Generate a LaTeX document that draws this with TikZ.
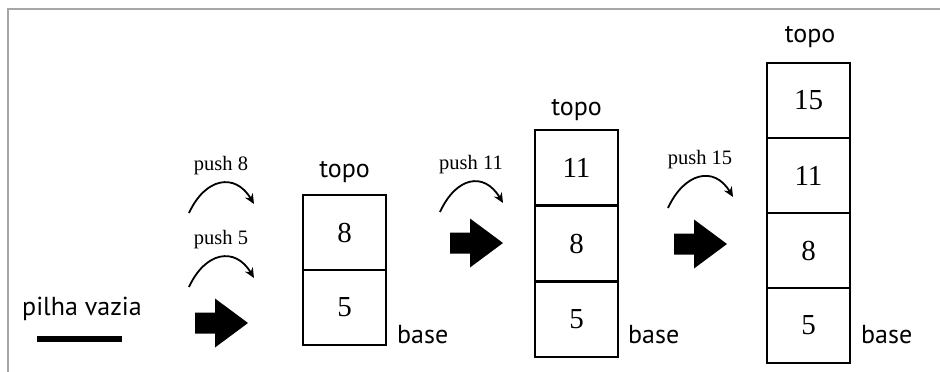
\documentclass[tikz,border=0pt]{standalone}
\usepackage{fontspec}
\setmainfont{Liberation Serif}
\newfontfamily\labelfont{PT Sans}
\usetikzlibrary{arrows.meta,positioning}
\begin{document}
\begin{tikzpicture}[x=1pt,y=-1pt,
 cell/.style={draw,line width=2.8pt,minimum width=83pt,minimum height=75pt,inner sep=0pt,outer sep=0pt,font=\fontsize{29}{32}\selectfont},
 lbl/.style={font=\labelfont\fontsize{26}{30}\selectfont,inner sep=0pt},
 pushlbl/.style={font=\fontsize{20.5}{24}\selectfont,inner sep=0pt},
 curved/.style={line width=1.8pt,-{Stealth[length=10pt,width=9pt]}},
 blockarrow/.pic={\fill (0,-10.5) -- (20,-10.5) -- (20,-24.5) -- (53,0) -- (20,24.5) -- (20,10.5) -- (0,10.5) -- cycle;}
]
\useasboundingbox (0,0) rectangle (940,372);
\fill[white] (0,0) rectangle (940,372);
\draw[gray!70,line width=1.5pt] (8,372) -- (8,9) -- (940,9);

% empty stack
\node[lbl,anchor=base] (empty) at (82,315) {pilha vazia};
\draw[line width=6pt] (37,339) -- (122,339);

% curved push arrows
\coordinate (p8s) at (189,213); \coordinate (p8e) at (254,204);
\coordinate (p5s) at (189,287); \coordinate (p5e) at (254,278);
\coordinate (p11s) at (440,212); \coordinate (p11e) at (503,203);
\coordinate (p15s) at (668,208); \coordinate (p15e) at (733,197);
\draw[curved] (p8s) .. controls +(16,-35) and +(-19,-32) .. (p8e);
\draw[curved] (p5s) .. controls +(16,-35) and +(-19,-32) .. (p5e);
\draw[curved] (p11s) .. controls +(16,-35) and +(-19,-32) .. (p11e);
\draw[curved] (p15s) .. controls +(16,-35) and +(-19,-32) .. (p15e);
\node[pushlbl] (l8) at (221,166) {push 8};
\node[pushlbl] (l5) at (221,240) {push 5};
\node[pushlbl] (l11) at (471,165) {push 11};
\node[pushlbl] (l15) at (700,160) {push 15};

% block arrows
\pic at (195,323) {blockarrow};
\pic at (450,243) {blockarrow};
\pic at (674,244) {blockarrow};

% stack 1
\node[cell] (a1) at (344.5,232.5) {8};
\node[cell] (a2) at (344.5,307.5) {5};
\node[lbl,anchor=base] (ta) at (344.5,177) {topo};
\node[lbl,anchor=base west] (ba) at (397,343) {base};

% stack 2
\node[cell,minimum height=75.7pt] (b1) at (576.5,167.8) {11};
\node[cell,minimum height=75.7pt] (b2) at (576.5,243.5) {8};
\node[cell,minimum height=75.7pt] (b3) at (576.5,319.2) {5};
\node[lbl,anchor=base] (tb) at (576.5,115) {topo};
\node[lbl,anchor=base west] (bb) at (628,343) {base};

% stack 3
\node[cell] (c1) at (808.5,100.5) {15};
\node[cell] (c2) at (808.5,175.5) {11};
\node[cell] (c3) at (808.5,250.5) {8};
\node[cell] (c4) at (808.5,325.5) {5};
\node[lbl,anchor=base] (tc) at (810,42) {topo};
\node[lbl,anchor=base west] (bc) at (861,343) {base};
\end{tikzpicture}
\end{document}
